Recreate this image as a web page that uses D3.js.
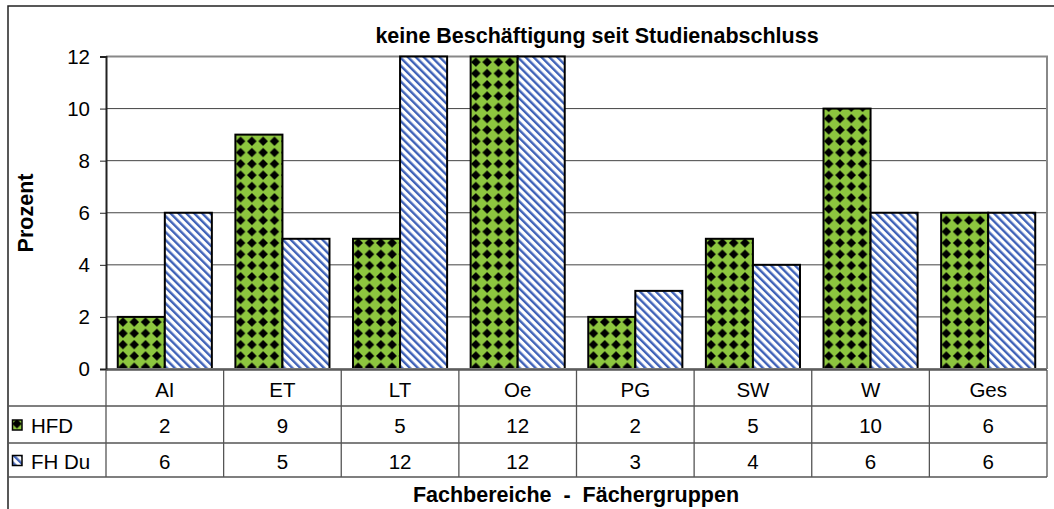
<!DOCTYPE html>
<html>
<head>
<meta charset="utf-8">
<script src="https://cdn.jsdelivr.net/npm/d3@7"></script>
<style>
  body { margin: 0; background: #fff; }
  svg { display: block; font-family: 'Liberation Sans', Arial, sans-serif; }
</style>
</head>
<body>
<div id="chart"></div>
<script>
const categories = ['AI', 'ET', 'LT', 'Oe', 'PG', 'SW', 'W', 'Ges'];
const seriesNames = ['HFD', 'FH Du'];
const hfdValues = [2, 9, 5, 12, 2, 5, 10, 6];
const fhDuValues = [6, 5, 12, 12, 3, 4, 6, 6];
const yTicks = [0, 2, 4, 6, 8, 10, 12];

const width = 1054;
const height = 509;
const fontSize = 20.5;
const titleSize = 21.5;
const plot = { left: 106, right: 1047, top: 56.5, bottom: 369 };
const table = { top: 370, row1: 406, row2: 443, bottom: 477, left: 8 };

const values = [hfdValues, fhDuValues];
const fills = ['url(#diamonds)', 'url(#stripes)'];

const svg = d3.select('#chart').append('svg')
  .attr('width', width)
  .attr('height', height);

// patterns
const defs = svg.append('defs');
const dia = defs.append('pattern')
  .attr('id', 'diamonds')
  .attr('patternUnits', 'userSpaceOnUse')
  .attr('width', 11.3)
  .attr('height', 11.3);
dia.append('rect').attr('width', 11.3).attr('height', 11.3).attr('fill', '#8dc63f');
dia.append('path')
  .attr('d', 'M5.65,0.9 L10.4,5.65 L5.65,10.4 L0.9,5.65 Z')
  .attr('fill', '#000');

const str = defs.append('pattern')
  .attr('id', 'stripes')
  .attr('patternUnits', 'userSpaceOnUse')
  .attr('width', 5.6)
  .attr('height', 10)
  .attr('patternTransform', 'rotate(-45)');
str.append('rect').attr('width', 5.6).attr('height', 10).attr('fill', '#fff');
str.append('rect').attr('width', 2.4).attr('height', 10).attr('fill', '#3f62b8');

// outer border
svg.append('rect')
  .attr('x', 8).attr('y', 6)
  .attr('width', 1070).attr('height', 520)
  .attr('fill', 'none')
  .attr('stroke', '#222')
  .attr('stroke-width', 1.5);

const x0 = d3.scaleBand().domain(categories).range([plot.left, plot.right]);
const x1 = d3.scaleBand().domain(seriesNames).range([0, x0.bandwidth()]).paddingOuter(0.25);
const y = d3.scaleLinear().domain([0, 12]).range([plot.bottom, plot.top]);

// gridlines
svg.append('g')
  .selectAll('line')
  .data(yTicks.filter((t) => t > 0 && t < 12))
  .enter()
  .append('line')
  .attr('x1', plot.left).attr('x2', plot.right)
  .attr('y1', (d) => y(d)).attr('y2', (d) => y(d))
  .attr('stroke', '#444')
  .attr('stroke-width', 1);

// plot frame (top + right)
svg.append('path')
  .attr('d', `M${plot.left},${y(12)}H${plot.right}V${plot.bottom}`)
  .attr('fill', 'none')
  .attr('stroke', '#888')
  .attr('stroke-width', 2);

// bars
const groups = svg.append('g')
  .selectAll('g')
  .data(categories)
  .enter()
  .append('g')
  .attr('transform', (d) => `translate(${x0(d)},0)`);

groups.selectAll('rect')
  .data((d, i) => seriesNames.map((s, j) => ({ s, j, v: values[j][i] })))
  .enter()
  .append('rect')
  .attr('x', (d) => x1(d.s))
  .attr('y', (d) => y(d.v))
  .attr('width', x1.bandwidth())
  .attr('height', (d) => y(0) - y(d.v))
  .attr('fill', (d) => fills[d.j])
  .attr('stroke', '#000')
  .attr('stroke-width', 2);

// bottom axis line
svg.append('line')
  .attr('x1', plot.left).attr('x2', plot.right)
  .attr('y1', plot.bottom).attr('y2', plot.bottom)
  .attr('stroke', '#777')
  .attr('stroke-width', 2);

// y axis
const yAxis = svg.append('g')
  .attr('transform', `translate(${plot.left},0)`)
  .call(d3.axisLeft(y).tickValues(yTicks).tickSize(6).tickPadding(10));
yAxis.select('.domain').attr('stroke', '#222').attr('stroke-width', 2);
yAxis.selectAll('.tick line').attr('stroke', '#222');
yAxis.selectAll('.tick text')
  .attr('font-size', fontSize)
  .attr('font-family', "'Liberation Sans', Arial, sans-serif")
  .attr('fill', '#000');

// data table
const tbl = svg.append('g').attr('stroke', '#555').attr('stroke-width', 1.3);
tbl.append('line').attr('x1', plot.left).attr('x2', plot.right).attr('y1', table.top).attr('y2', table.top);
[table.row1, table.row2, table.bottom].forEach((ry) => {
  tbl.append('line').attr('x1', table.left).attr('x2', plot.right).attr('y1', ry).attr('y2', ry);
});
tbl.selectAll('line.v')
  .data(categories.map((c) => x0(c)).concat([plot.right]))
  .enter()
  .append('line')
  .attr('x1', (d) => d).attr('x2', (d) => d)
  .attr('y1', table.top).attr('y2', table.bottom);

const cellText = (xx, yy, t, anchor) => svg.append('text')
  .attr('x', xx).attr('y', yy)
  .attr('text-anchor', anchor || 'middle')
  .attr('dominant-baseline', 'central')
  .attr('font-size', fontSize)
  .text(t);

categories.forEach((c, i) => {
  const cx = x0(c) + x0.bandwidth() / 2;
  cellText(cx, (table.top + table.row1) / 2 + 1, c);
  cellText(cx, (table.row1 + table.row2) / 2 + 1, hfdValues[i]);
  cellText(cx, (table.row2 + table.bottom) / 2 + 1, fhDuValues[i]);
});

// legend keys in table
const rowMid = [(table.row1 + table.row2) / 2, (table.row2 + table.bottom) / 2];
seriesNames.forEach((s, j) => {
  svg.append('rect')
    .attr('x', 12.5).attr('y', rowMid[j] - 4.5)
    .attr('width', 9.5).attr('height', 10)
    .attr('fill', fills[j])
    .attr('stroke', '#000')
    .attr('stroke-width', 1.5);
  cellText(31, rowMid[j] + 1, s, 'start');
});

// titles
svg.append('text')
  .attr('x', 597).attr('y', 43)
  .attr('text-anchor', 'middle')
  .attr('font-size', titleSize)
  .attr('font-weight', 'bold')
  .text('keine Beschäftigung seit Studienabschluss');

svg.append('text')
  .attr('transform', 'translate(33,213) rotate(-90)')
  .attr('text-anchor', 'middle')
  .attr('font-size', titleSize)
  .attr('font-weight', 'bold')
  .text('Prozent');

svg.append('text')
  .attr('x', 576).attr('y', 502)
  .attr('text-anchor', 'middle')
  .attr('font-size', titleSize)
  .attr('font-weight', 'bold')
  .attr('xml:space', 'preserve')
  .style('white-space', 'pre')
  .text('Fachbereiche  -  Fächergruppen');
</script>
</body>
</html>
